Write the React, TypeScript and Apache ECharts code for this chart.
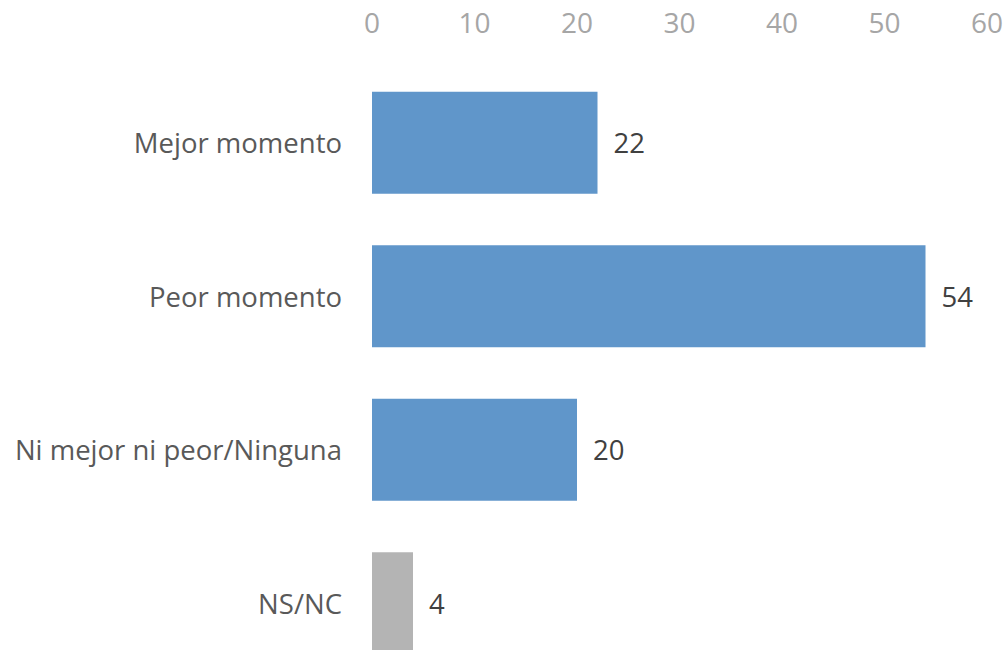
import React, { useEffect, useRef } from "react";
import * as echarts from "echarts";

const categories = ["Mejor momento", "Peor momento", "Ni mejor ni peor/Ninguna", "NS/NC"];
const values = [22, 54, 20, 4];
const barColors = ["#6096CA", "#6096CA", "#6096CA", "#B4B4B4"];
const axisTicks = [0, 60, 10]; // min, max, interval

export default function App() {
  const ref = useRef<HTMLDivElement>(null);
  useEffect(() => {
    if (!ref.current) return;
    const chart = echarts.init(ref.current, null, { renderer: "svg" });
    const font = "'Open Sans', 'Noto Sans', sans-serif";
    chart.setOption({
      animation: false,
      grid: {
        left: 372,
        right: 18,
        top: 66,
        height: 614,
        containLabel: false,
        outerBoundsMode: "none",
      },
      xAxis: {
        type: "value",
        position: "top",
        min: axisTicks[0],
        max: axisTicks[1],
        interval: axisTicks[2],
        axisLine: { show: false },
        axisTick: { show: false },
        splitLine: { show: false },
        axisLabel: { color: "#A6A6A6", fontSize: 28, fontFamily: font, margin: 30 },
      },
      yAxis: {
        type: "category",
        data: categories,
        inverse: true,
        axisLine: { show: false },
        axisTick: { show: false },
        axisLabel: { color: "#595959", fontSize: 27.5, fontFamily: font, margin: 30 },
      },
      series: [
        {
          type: "bar",
          barWidth: 102,
          data: values.map((v, i) => ({ value: v, itemStyle: { color: barColors[i] } })),
          label: {
            show: true,
            position: "right",
            distance: 16,
            color: "#404040",
            fontSize: 27.5,
            fontFamily: font,
          },
        },
      ],
    });
    return () => chart.dispose();
  }, []);
  return (
    <div
      ref={ref}
      style={{ position: "fixed", left: 0, top: 0, width: 1005, height: 650, background: "#fff" }}
    />
  );
}
